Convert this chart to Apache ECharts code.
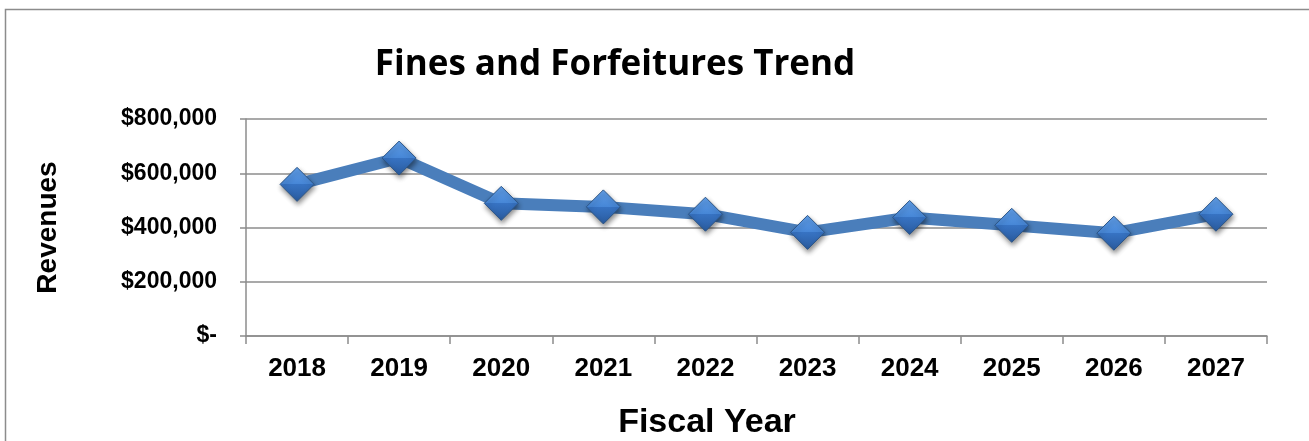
<!DOCTYPE html>
<html>
<head>
<meta charset="utf-8">
<title>Fines and Forfeitures Trend</title>
<script src="https://cdn.jsdelivr.net/npm/echarts@6/dist/echarts.min.js"></script>
<style>
  html, body { margin: 0; padding: 0; background: #ffffff; }
  #chart { width: 1309px; height: 441px; }
</style>
</head>
<body>
<div id="chart"></div>
<script>
// Fiscal years shown on the category axis
const fiscalYears = ['2018', '2019', '2020', '2021', '2022', '2023', '2024', '2025', '2026', '2027'];
// Fines and forfeitures revenue per fiscal year (USD)
const revenues = [559000, 656000, 489000, 476000, 449000, 382000, 437000, 408000, 379000, 449000];
// Value axis range and step
const revenueTicks = { min: 0, max: 800000, interval: 200000 };

function formatDollars(v) {
  if (v === 0) return '$-';
  return '$' + v.toLocaleString('en-US');
}

const chart = echarts.init(document.getElementById('chart'), null, { renderer: 'canvas' });

const gridColor = '#8c8c8c';
const labelFont = '"Liberation Sans", Arial, sans-serif';

chart.setOption({
  animation: false,
  backgroundColor: '#ffffff',
  graphic: [{
    type: 'rect',
    shape: { x: 5.5, y: 9.5, width: 1400, height: 500 },
    style: { fill: 'none', stroke: '#8c8c8c', lineWidth: 1.5 },
    silent: true,
    z: -10
  }],
  title: [{
    text: 'Fines and Forfeitures Trend',
    left: 610,
    top: 43,
    textAlign: 'center',
    textStyle: { fontFamily: '"Open Sans", Lato, sans-serif', fontWeight: 'bold', fontSize: 35, color: '#000000' }
  }, {
    text: 'Fiscal Year',
    left: 702,
    top: 401,
    textAlign: 'center',
    textStyle: { fontFamily: labelFont, fontWeight: 'bold', fontSize: 34, color: '#000000' }
  }],
  grid: { left: 246, right: 42, top: 119, bottom: 105, containLabel: false },
  xAxis: {
    type: 'category',
    data: fiscalYears,
    boundaryGap: true,
    axisLine: { show: true, lineStyle: { color: gridColor, width: 1.5 } },
    axisTick: { show: true, length: 8, alignWithLabel: false, lineStyle: { color: gridColor, width: 1.5 } },
    axisLabel: { margin: 20, fontFamily: labelFont, fontWeight: 'bold', fontSize: 26, color: '#000000' },
    splitLine: { show: false }
  },
  yAxis: {
    type: 'value',
    min: revenueTicks.min,
    max: revenueTicks.max,
    interval: revenueTicks.interval,
    name: 'Revenues',
    nameLocation: 'middle',
    nameGap: 184,
    nameRotate: 90,
    nameTextStyle: { fontFamily: labelFont, fontWeight: 'bold', fontSize: 28, color: '#000000' },
    axisLine: { show: true, lineStyle: { color: gridColor, width: 1.5 } },
    axisTick: { show: true, inside: false, length: 6, lineStyle: { color: gridColor, width: 1.5 } },
    axisLabel: { margin: 29, formatter: formatDollars, fontFamily: labelFont, fontWeight: 'bold', fontSize: 23, color: '#000000' },
    splitLine: { show: true, lineStyle: { color: gridColor, width: 1.5 } }
  },
  series: [{
    type: 'line',
    data: revenues,
    lineStyle: { color: '#4a7ebb', width: 12 },
    symbol: 'diamond',
    symbolSize: [34, 34],
    itemStyle: {
      color: new echarts.graphic.LinearGradient(0, 0, 0, 1, [
        { offset: 0, color: '#62a0ea' },
        { offset: 0.5, color: '#4686d6' },
        { offset: 0.5, color: '#3773c3' },
        { offset: 1, color: '#2a5b9e' }
      ]),
      borderColor: '#2c5586',
      borderWidth: 1,
      shadowColor: 'rgba(0,0,0,0.45)',
      shadowBlur: 5,
      shadowOffsetX: 1,
      shadowOffsetY: 3
    },
    z: 3
  }]
});
</script>
</body>
</html>
